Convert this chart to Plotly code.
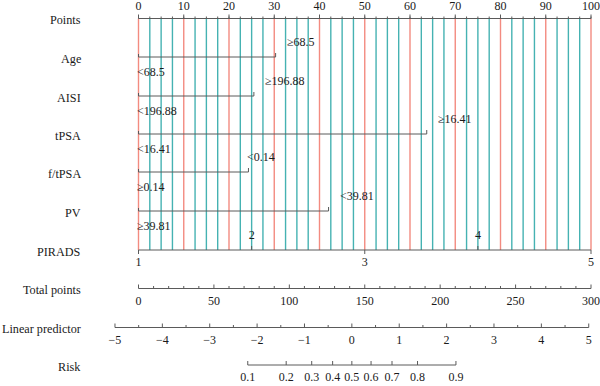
import numpy as np
import plotly.graph_objects as go

# ---------------- data ----------------
points_ticks = [0, 10, 20, 30, 40, 50, 60, 70, 80, 90, 100]

age_labels = ["<68.5", "≥68.5"]
age_points = [0, 30.3]
aisi_labels = ["<196.88", "≥196.88"]
aisi_points = [0, 25.5]
tpsa_labels = ["<16.41", "≥16.41"]
tpsa_points = [0, 63.7]
ftpsa_labels = ["≥0.14", "<0.14"]
ftpsa_points = [0, 24.3]
pv_labels = ["≥39.81", "<39.81"]
pv_points = [0, 42.0]
pirads_labels = [1, 2, 3, 4, 5]
pirads_points = [0, 25, 50, 75, 100]

total_ticks = [0, 50, 100, 150, 200, 250, 300]
total_max = 300
lp_ticks = [-5, -4, -3, -2, -1, 0, 1, 2, 3, 4, 5]
risk_ticks = [0.1, 0.2, 0.3, 0.4, 0.5, 0.6, 0.7, 0.8, 0.9]

# linear predictor -> points scale
lp_intercept = 47.15
lp_slope = 10.47

# ---------------- layout constants ----------------
W, H = 600, 386
PX0, PX100 = 138.5, 591.0
ppu = (PX100 - PX0) / 100.0
xr = [-PX0 / ppu, (W - PX0) / ppu]

Y = {"Points": 18.5, "Age": 57, "AISI": 96, "tPSA": 134, "f/tPSA": 172,
     "PV": 211, "PIRADS": 250, "Total points": 288.5,
     "Linear predictor": 327.5, "Risk": 365}

AX = "#5a5a5a"
TXT = "#1a1a1a"
RED = "#F38B80"
TEAL = "#45B2B2"
FONT = "Liberation Serif"

fig = go.Figure()


def seg(xs, ys, color=AX, width=1.0):
    fig.add_trace(go.Scatter(x=xs, y=ys, mode="lines",
                             line=dict(color=color, width=width),
                             hoverinfo="skip", showlegend=False))


def texts(xs, ys, labels, size=12, pos="middle center"):
    fig.add_trace(go.Scatter(x=xs, y=ys, mode="text", text=[str(t) for t in labels],
                             textposition=pos,
                             textfont=dict(family=FONT, size=size, color=TXT),
                             hoverinfo="skip", showlegend=False))


# vertical guide lines
grid = np.arange(0, 100.01, 2.5)
red_x, red_y, teal_x, teal_y = [], [], [], []
for g in grid:
    if abs(g % 10) < 1e-9:
        red_x += [g, g, None]; red_y += [Y["Points"], Y["PIRADS"], None]
    else:
        teal_x += [g, g, None]; teal_y += [Y["Points"], Y["PIRADS"], None]
seg(teal_x, teal_y, TEAL, 1.4)
seg(red_x, red_y, RED, 1.4)

# Points axis
yp = Y["Points"]
seg([points_ticks[0], points_ticks[-1]], [yp, yp])
tx, ty = [], []
for t in points_ticks:
    tx += [t, t, None]; ty += [yp, yp - 4, None]
for t in np.arange(0, 100.01, 2.5):
    tx += [t, t, None]; ty += [yp, yp - 2, None]
seg(tx, ty)
texts(points_ticks, [yp - 11.5] * len(points_ticks), points_ticks)

# binary rows
rows = [("Age", age_labels, age_points, 9),
        ("AISI", aisi_labels, aisi_points, 9),
        ("tPSA", tpsa_labels, tpsa_points, 9),
        ("f/tPSA", ftpsa_labels, ftpsa_points, -3),
        ("PV", pv_labels, pv_points, 9)]
for name, labs, pts, shift in rows:
    y = Y[name]
    seg([pts[0], pts[1]], [y, y])
    seg([pts[0], pts[0], None, pts[1], pts[1]], [y, y - 3, None, y, y - 4])
    fig.add_annotation(x=pts[0], y=y + 15, text=labs[0], showarrow=False,
                       xanchor="left", xshift=-4, yanchor="middle",
                       font=dict(family=FONT, size=12, color=TXT))
    fig.add_annotation(x=pts[1], y=y - 15, text=labs[1], showarrow=False,
                       xanchor="left", xshift=shift, yanchor="middle",
                       font=dict(family=FONT, size=12, color=TXT))

# PIRADS
y = Y["PIRADS"]
seg([pirads_points[0], pirads_points[-1]], [y, y])
tx, ty = [], []
for i, p in enumerate(pirads_points):
    d = 4 if i % 2 == 0 else -4
    tx += [p, p, None]; ty += [y, y + d, None]
seg(tx, ty)
texts([p for i, p in enumerate(pirads_points) if i % 2 == 0], [y + 13] * 3,
      [l for i, l in enumerate(pirads_labels) if i % 2 == 0])
texts([p for i, p in enumerate(pirads_points) if i % 2 == 1], [y - 14] * 2,
      [l for i, l in enumerate(pirads_labels) if i % 2 == 1])

# Total points
y = Y["Total points"]
tp = [t * 100.0 / total_max for t in total_ticks]
seg([tp[0], tp[-1]], [y, y])
tx, ty = [], []
for t in range(0, total_max + 1, 10):
    x = t * 100.0 / total_max
    L = 4 if t % 50 == 0 else 2.5
    tx += [x, x, None]; ty += [y, y - L, None]
seg(tx, ty)
texts(tp, [y + 13] * len(tp), total_ticks)

# Linear predictor
y = Y["Linear predictor"]
lx = [lp_intercept + lp_slope * v for v in lp_ticks]
seg([lx[0], lx[-1]], [y, y])
tx, ty = [], []
for v in np.arange(lp_ticks[0], lp_ticks[-1] + 0.01, 0.5):
    x = lp_intercept + lp_slope * v
    L = 4 if abs(v - round(v)) < 1e-9 else 2.5
    tx += [x, x, None]; ty += [y, y - L, None]
seg(tx, ty)
texts(lx, [y + 13] * len(lx), ["−" + str(-v) if v < 0 else str(v) for v in lp_ticks])

# Risk
y = Y["Risk"]
rx = [lp_intercept + lp_slope * np.log(p / (1 - p)) for p in risk_ticks]
seg([rx[0], rx[-1]], [y, y])
tx, ty = [], []
for x in rx:
    tx += [x, x, None]; ty += [y, y - 4, None]
seg(tx, ty)
texts(rx, [y + 13] * len(rx), [f"{p:.1f}" for p in risk_ticks])

# row labels
for name, yy in Y.items():
    fig.add_annotation(xref="paper", x=82.5 / W, y=yy + 1.8, text=name, showarrow=False,
                       xanchor="right", yanchor="middle",
                       font=dict(family=FONT, size=12.2, color=TXT))

fig.update_layout(
    width=W, height=H, margin=dict(l=0, r=0, t=0, b=0),
    paper_bgcolor="white", plot_bgcolor="white",
    xaxis=dict(range=xr, visible=False, fixedrange=True),
    yaxis=dict(range=[H, 0], visible=False, fixedrange=True),
    showlegend=False,
)
fig.write_html(
    "out.html",
    config={"displayModeBar": False},
    post_script="document.body.style.margin='0';document.body.style.overflow='hidden';",
)
